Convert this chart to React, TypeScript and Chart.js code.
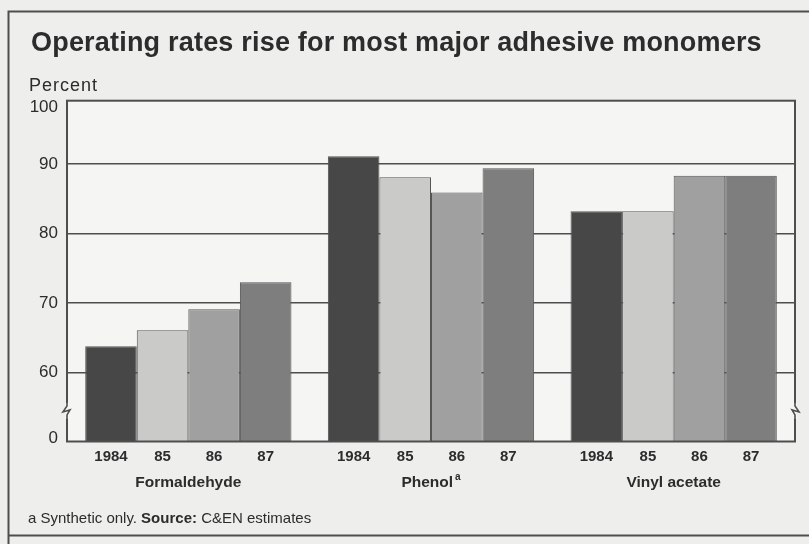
import React, { useEffect, useRef } from "react";
import { Chart, registerables } from "chart.js";

Chart.register(...registerables);

// ---- data ----
const TITLE = "Operating rates rise for most major adhesive monomers";
const Y_UNIT = "Percent";
const groups = ["Formaldehyde", "Phenol", "Vinyl acetate"];
const groupMarks = ["", "a", ""];
const years = ["1984", "85", "86", "87"];
const rates1984 = [63.8, 91.1, 83.2];
const rates1985 = [66.1, 88.1, 83.2];
const rates1986 = [69.1, 85.9, 88.3];
const rates1987 = [73.0, 89.4, 88.3];
const yTickValues = [0, 60, 70, 80, 90, 100];
const FOOT_NOTE = "a Synthetic only. ";
const FOOT_SOURCE_LABEL = "Source:";
const FOOT_SOURCE = " C&EN estimates";

// ---- style ----
const FONT = "'Liberation Sans', Arial, Helvetica, sans-serif";
const INK = "#2c2c2c";
const LINE = "#4e4e4e";
const PAGE_BG = "#eeeeec";
const PLOT_BG = "#f5f5f3";
const barColors = ["#474747", "#cacac8", "#a0a0a0", "#7e7e7e"];
const AXIS_MIN = 50.1; // axis is broken: bottom edge represents 0
const AXIS_MAX = 99.1;
const BREAK_AT = 54.5;

const decorPlugin = {
  id: "decor",
  beforeDraw(chart: any) {
    const { ctx, chartArea: a, width, height } = chart;
    ctx.save();
    ctx.fillStyle = PAGE_BG;
    ctx.fillRect(0, 0, width, height);
    ctx.fillStyle = PLOT_BG;
    ctx.fillRect(a.left, a.top, a.right - a.left, a.bottom - a.top);
    ctx.restore();
  },
  afterDatasetsDraw(chart: any) {
    const { ctx, chartArea: a, scales } = chart;
    const y = scales.y;
    const x = scales.x;
    ctx.save();
    // plot frame
    ctx.strokeStyle = LINE;
    ctx.lineWidth = 2;
    ctx.strokeRect(a.left, a.top, a.right - a.left, a.bottom - a.top);

    // axis break marks
    const by = y.getPixelForValue(BREAK_AT);
    const drawBreak = (bx: number, dir: number) => {
      ctx.fillStyle = PLOT_BG;
      ctx.fillRect(bx - 2, by - 8, 4, 16);
      ctx.beginPath();
      ctx.moveTo(bx, by - 9);
      ctx.lineTo(bx, by - 5);
      ctx.lineTo(bx - 4 * dir, by + 1);
      ctx.lineTo(bx + 3 * dir, by - 1);
      ctx.lineTo(bx, by + 4);
      ctx.lineTo(bx, by + 9);
      ctx.strokeStyle = LINE;
      ctx.lineWidth = 1.6;
      ctx.stroke();
    };
    drawBreak(a.left, 1);
    drawBreak(a.right, -1);

    // year labels under each bar
    ctx.fillStyle = INK;
    ctx.textAlign = "center";
    ctx.textBaseline = "alphabetic";
    ctx.font = `bold 15px ${FONT}`;
    chart.data.datasets.forEach((ds: any, i: number) => {
      const meta = chart.getDatasetMeta(i);
      meta.data.forEach((bar: any) => {
        ctx.fillText(years[i], bar.x, a.bottom + 19);
      });
    });

    // group labels
    groups.forEach((g, j) => {
      const cx = x.getPixelForValue(j);
      ctx.font = `bold 15.5px ${FONT}`;
      const w = ctx.measureText(g).width;
      ctx.font = `bold 10px ${FONT}`;
      const mw = groupMarks[j] ? ctx.measureText(groupMarks[j]).width + 2 : 0;
      const startX = cx - (w + mw) / 2;
      ctx.textAlign = "left";
      ctx.font = `bold 15.5px ${FONT}`;
      ctx.fillText(g, startX, a.bottom + 45);
      if (groupMarks[j]) {
        ctx.font = `bold 10px ${FONT}`;
        ctx.fillText(groupMarks[j], startX + w + 2, a.bottom + 38);
      }
    });

    // title
    ctx.textAlign = "left";
    ctx.font = `bold 27px ${FONT}`;
    (ctx as any).letterSpacing = "0.2px";
    ctx.fillText(TITLE, 31, 51);

    // unit label
    ctx.font = `18px ${FONT}`;
    (ctx as any).letterSpacing = "1px";
    ctx.fillText(Y_UNIT, 29, 91);
    (ctx as any).letterSpacing = "0px";

    // footnote
    ctx.font = `15px ${FONT}`;
    let fx = 28;
    ctx.fillText(FOOT_NOTE, fx, 523);
    fx += ctx.measureText(FOOT_NOTE).width;
    ctx.font = `bold 15px ${FONT}`;
    ctx.fillText(FOOT_SOURCE_LABEL, fx, 523);
    fx += ctx.measureText(FOOT_SOURCE_LABEL).width;
    ctx.font = `15px ${FONT}`;
    ctx.fillText(FOOT_SOURCE, fx, 523);

    // outer border
    ctx.strokeStyle = LINE;
    ctx.lineWidth = 2;
    ctx.beginPath();
    ctx.moveTo(chart.width + 2, 11.5);
    ctx.lineTo(8.5, 11.5);
    ctx.lineTo(8.5, chart.height + 2);
    ctx.moveTo(8.5, 535.5);
    ctx.lineTo(chart.width + 2, 535.5);
    ctx.stroke();
    ctx.restore();
  },
};

export default function App() {
  const ref = useRef<HTMLCanvasElement | null>(null);
  useEffect(() => {
    if (!ref.current) return;
    const series = [rates1984, rates1985, rates1986, rates1987];
    const chart = new Chart(ref.current, {
      type: "bar",
      data: {
        labels: groups,
        datasets: series.map((vals, i) => ({
          label: years[i],
          data: vals,
          backgroundColor: barColors[i],
          borderColor: "#555555",
          borderWidth: 1,
          barPercentage: 1.0,
          categoryPercentage: 0.85,
        })),
      },
      options: {
        responsive: false,
        animation: false,
        layout: { padding: { top: 100.7, right: 14, bottom: 102.5, left: 0 } },
        plugins: {
          legend: { display: false },
          title: { display: false },
          tooltip: { enabled: false },
        },
        scales: {
          x: {
            ticks: { display: false },
            grid: { display: false },
            border: { display: false },
            afterFit: (s: any) => {
              s.height = 0;
            },
          },
          y: {
            min: AXIS_MIN,
            max: AXIS_MAX,
            afterBuildTicks: (s: any) => {
              s.ticks = yTickValues.map((v) => ({
                value: v === 0 ? s.min + 0.45 : v === 100 ? s.max - 0.9 : v,
              }));
            },
            ticks: {
              callback: (_v: any, i: number) => String(yTickValues[i]),
              padding: 9,
              color: INK,
              font: { family: FONT, size: 17 },
            },
            grid: {
              drawTicks: false,
              lineWidth: 1.5,
              color: (c: any) =>
                c.index === 0 || c.index === yTickValues.length - 1 ? "rgba(0,0,0,0)" : LINE,
            },
            border: { display: false },
            afterFit: (s: any) => {
              s.width = 67;
            },
          },
        },
      },
      plugins: [decorPlugin],
    });
    return () => chart.destroy();
  }, []);
  return (
    <div style={{ position: "absolute", left: 0, top: 0, width: 809, height: 544 }}>
      <canvas ref={ref} width={809} height={544} style={{ display: "block" }} />
    </div>
  );
}
